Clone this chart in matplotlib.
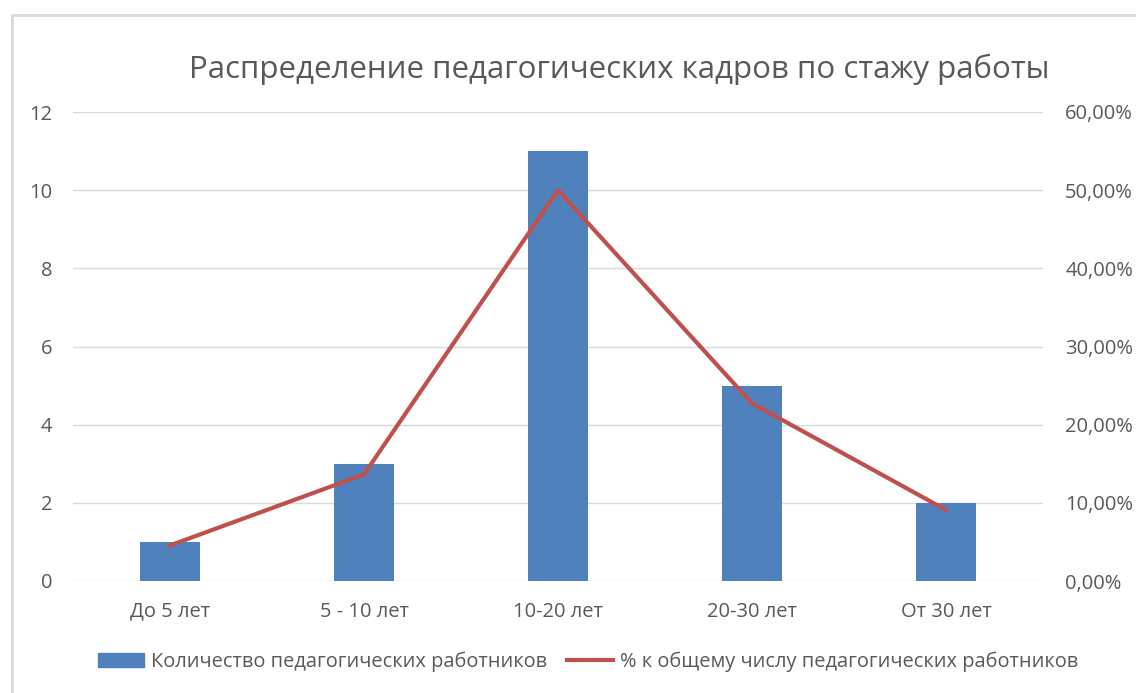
import matplotlib.pyplot as plt
import matplotlib.patches as mpatches
from matplotlib.lines import Line2D
from matplotlib.ticker import FuncFormatter
import numpy as np

plt.rcParams['font.family'] = ['Open Sans', 'DejaVu Sans']

categories = ['До 5 лет', '5 - 10 лет', '10-20 лет', '20-30 лет', 'От 30 лет']
counts = [1, 3, 11, 5, 2]
percents = [4.55, 13.64, 50.0, 22.73, 9.09]

title = 'Распределение педагогических кадров по стажу работы'
bar_label = 'Количество педагогических работников'
line_label = '% к общему числу педагогических работников'

blue = '#4F81BD'
red = '#C0504D'
grey_text = '#595959'
grid_col = '#D9D9D9'

fig = plt.figure(figsize=(11.36, 6.93), dpi=100)
ax = fig.add_axes([73 / 1136, 1 - 581 / 693, 970 / 1136, 469 / 693])

x = np.arange(len(categories))
ax.bar(x, counts, width=0.31, color=blue, zorder=2)
ax.set_xlim(-0.5, len(categories) - 0.5)
ax.set_ylim(0, 12)
ax.set_yticks(range(0, 13, 2))
ax.set_xticks(x)
ax.set_xticklabels(categories)
ax.grid(axis='y', color=grid_col, linewidth=1, zorder=0)
ax.tick_params(length=0, labelsize=14.5, colors=grey_text)
ax.tick_params(axis='y', pad=15)
ax.tick_params(axis='x', pad=15)
for s in ax.spines.values():
    s.set_visible(False)

ax2 = ax.twinx()
ax2.plot(x, percents, color=red, linewidth=3, zorder=3)
ax2.set_ylim(0, 60)
ax2.set_yticks(range(0, 61, 10))
ax2.yaxis.set_major_formatter(FuncFormatter(lambda v, p: f'{v:.2f}%'.replace('.', ',')))
ax2.tick_params(length=0, labelsize=14.5, colors=grey_text, pad=16)
for s in ax2.spines.values():
    s.set_visible(False)

fig.text(619 / 1136, 1 - 69 / 693, title, ha='center', va='center',
         fontsize=22.5, color=grey_text)

handles = [mpatches.Patch(color=blue, label=bar_label),
           Line2D([0], [0], color=red, linewidth=3, label=line_label)]
fig.legend(handles=handles, loc='center', bbox_to_anchor=(588 / 1136, 1 - 662 / 693),
           ncol=2, frameon=False, fontsize=14.4, labelcolor=grey_text,
           handlelength=2.3, handletextpad=0.35, columnspacing=1.0)

# outer chart border (light grey, open to right and bottom)
fig.patches.append(mpatches.Rectangle((12 / 1136, -0.1), 1.2, 1.1 - 15 / 693,
                                      transform=fig.transFigure, fill=False,
                                      edgecolor='#D9D9D9', linewidth=2))

fig.savefig('out.png', dpi=100)
